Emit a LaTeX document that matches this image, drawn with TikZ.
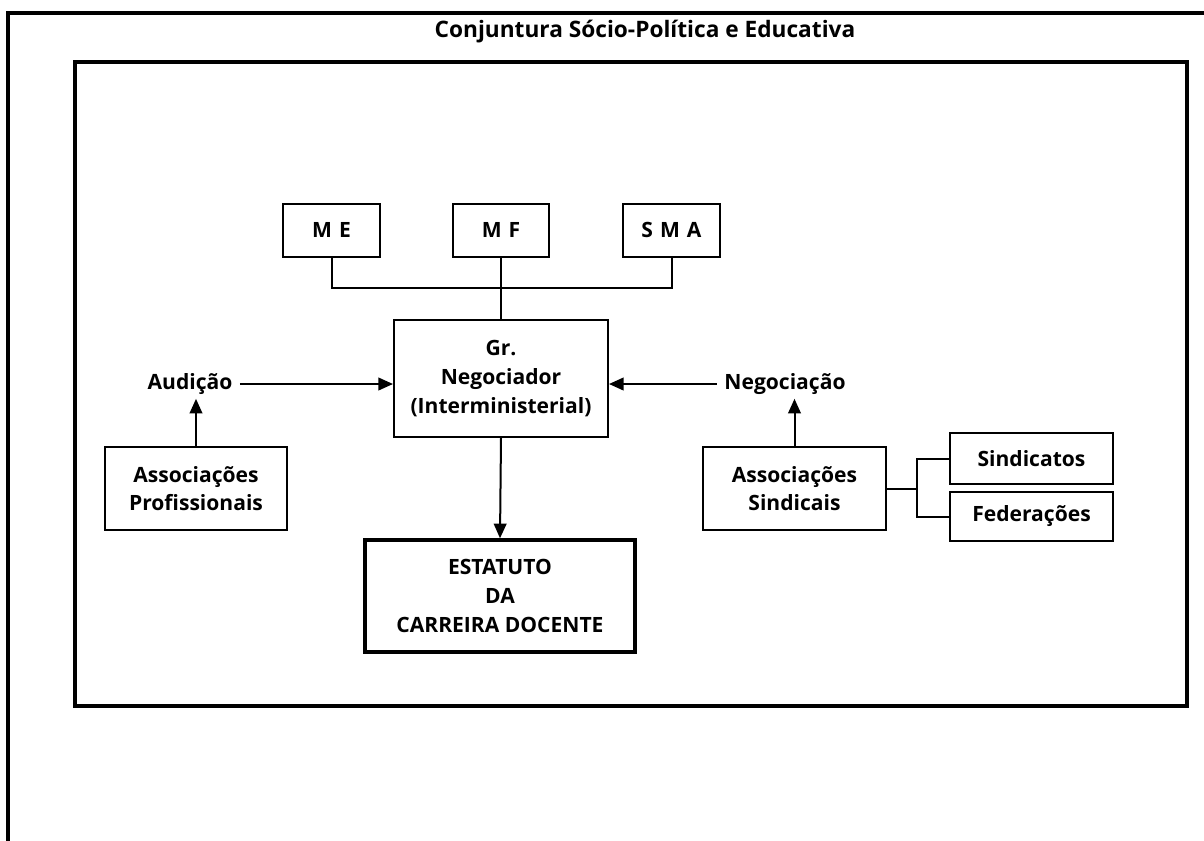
\documentclass[tikz,border=0pt]{standalone}
\usepackage{fontspec}
\setmainfont{Open Sans}
\usetikzlibrary{arrows.meta}
\begin{document}
\begin{tikzpicture}[x=0.75pt,y=-0.75pt,
  frame/.style={line width=3pt},
  box/.style={draw, line width=1.5pt, align=center, inner sep=0pt,
    font=\fontsize{15.8}{21.5}\selectfont\bfseries},
  bigbox/.style={box, line width=2.6pt},
  lbl/.style={inner sep=1pt, font=\fontsize{15.8}{18}\selectfont\bfseries},
  link/.style={line width=1.5pt},
  arr/.style={link, -{Triangle[length=11pt,width=9.5pt]}}
]
\useasboundingbox (0,0) rectangle (1204,840);

% outer frame (continues past the page edge) and inner frame
\draw[frame] (1215,13) -- (8,13) -- (8,850);
\draw[frame] (75,62) rectangle (1187,706);
\node[font=\fontsize{17}{20}\selectfont\bfseries] (title) at (645,32) {Conjuntura Sócio-Política e Educativa};

% ministries
\node[box, minimum width=72.75pt, minimum height=39.75pt] (me)  at (331.5,230) {M\,\,E};
\node[box, minimum width=72pt,    minimum height=39.75pt] (mf)  at (501,230)   {M\,\,F};
\node[box, minimum width=72.75pt, minimum height=39.75pt] (sma) at (671.5,230) {S\,\,M\,\,A};

% negotiating group
\node[box, minimum width=160.5pt, minimum height=87.75pt] (gn) at (501,378.5)
  {Gr.\\Negociador\\(Interministerial)};

% side labels
\node[lbl] (aud) at (190,384) {Audição};
\node[lbl] (neg) at (785,384) {Negociação};

% associations
\node[box, minimum width=136.5pt,  minimum height=62.25pt] (ap) at (196,488.5)
  {Associações\\Profissionais};
\node[box, minimum width=137.25pt, minimum height=62.25pt] (as) at (794.5,488.5)
  {Associações\\Sindicais};
\node[box, minimum width=122.25pt, minimum height=38.25pt] (sind) at (1031.5,458.5) {Sindicatos};
\node[box, minimum width=122.25pt, minimum height=36.75pt] (fed)  at (1031.5,516.5) {Federações};

% statute
\node[bigbox, minimum width=202.5pt, minimum height=84pt] (es) at (500,596)
  {ESTATUTO\\DA\\CARREIRA DOCENTE};

% connectors
\coordinate (bus) at (501,288);
\coordinate (fork) at (917,488.5);
\draw[link] (me.south) |- (bus) -| (sma.south);
\draw[link] (mf.south) -- (gn.north);
\draw[arr] (aud.east) ++(6,0) -- (aud.east -| gn.west);
\draw[arr] (neg.west) ++(-6,0) -- (neg.west -| gn.east);
\draw[arr] (ap.north) -- ([yshift=-2pt]ap.north |- aud.south);
\draw[arr] (as.north) -- ([yshift=-2pt]as.north |- neg.south);
\draw[arr] (gn.south) -- (es.north);
\draw[link] (as.east) -- (fork);
\draw[link] (sind.west) -| (fork);
\draw[link] (fed.west) -| (fork);
\end{tikzpicture}
\end{document}
